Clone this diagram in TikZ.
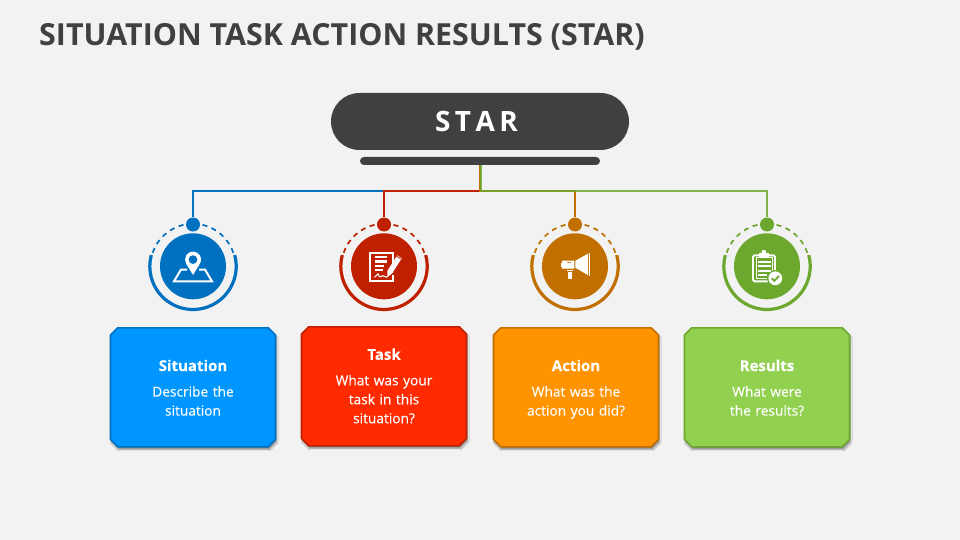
\documentclass[tikz,border=0pt]{standalone}
\usepackage{fontspec}
\setmainfont{Open Sans}
\newfontfamily\bodyfont[FakeBold=0.25]{Open Sans}
\usetikzlibrary{shapes.misc,shadows.blur}
\definecolor{bgc}{HTML}{F2F2F2}
\definecolor{dark}{HTML}{404040}
\definecolor{cA}{HTML}{0070C0}\definecolor{fA}{HTML}{0096FF}
\definecolor{cB}{HTML}{BE2000}\definecolor{fB}{HTML}{FF2A00}
\definecolor{cC}{HTML}{C06F00}\definecolor{fC}{HTML}{FF9300}
\definecolor{cD}{HTML}{6CA82E}\definecolor{fD}{HTML}{92D050}
\tikzset{x=1pt,y=-1pt,
 cardbox/.style={chamfered rectangle,chamfered rectangle xsep=3.6pt,chamfered rectangle ysep=3.6pt,minimum width=165pt,minimum height=119pt,line width=1.6pt,inner sep=0pt,blur shadow={shadow xshift=1pt,shadow yshift=-2.5pt,shadow blur steps=4,shadow blur radius=1.5pt,shadow opacity=45}},
 cardtext/.style={inner sep=0pt,text=white,align=center,font=\bodyfont\fontsize{13.7}{19}\selectfont,text width=150pt},
 disc/.style={circle,minimum size=66pt,inner sep=0pt},
 dot/.style={circle,minimum size=14pt,inner sep=0pt},
 link/.style={line width=1.8pt,line join=miter},
 solidring/.style={line width=3.2pt},
 dashring/.style={line width=1.7pt,dash pattern=on 5pt off 4.6pt},
 icl/.style={draw=white,line width=2pt,fill=none,line join=miter},
 icf/.style={fill=white,draw=none}}
\newcommand{\cardhead}[1]{{\fontsize{15}{19}\selectfont\bfseries\strut #1}\\[6.5pt]}
\newcommand{\cardspace}{\phantom{\rule{150pt}{90pt}}}
\begin{document}
\begin{tikzpicture}
\useasboundingbox[fill=bgc] (0,0) rectangle (960,540);
\node[anchor=base west,inner sep=0pt,text=dark,font=\fontsize{30.4}{34}\selectfont\bfseries] (title) at (39,45.5) {SITUATION TASK ACTION RESULTS (STAR)};
\node[rounded rectangle,fill=dark,minimum width=298pt,minimum height=57pt,inner sep=0pt,text=white,font=\fontsize{28}{32}\selectfont\bfseries] (star) at (480,121.5) {\hspace*{-7pt}S\kern4.5ptT\kern4.5ptA\kern4.5ptR};
\node[rounded rectangle,fill=dark,minimum width=240pt,minimum height=8pt,inner sep=0pt] (bar) at (480,161) {};
% circles and dots
\foreach \n/\x/\c in {a/193/cA,b/384/cB,c/575/cC,d/767/cD}{
  \node[dot,fill=\c] (dot\n) at (\x,224.5) {};
  \node[disc,fill=\c] (disc\n) at (\x,266.3) {};
  \draw[\c,solidring] (disc\n.center) ++(-15:43.2) arc[start angle=-15,end angle=195,radius=43.2];
  \draw[\c,dashring] (disc\n.center) ++(-90:42.5) arc[start angle=-90,end angle=-15,radius=42.5];
  \draw[\c,dashring] (disc\n.center) ++(-90:42.5) arc[start angle=270,end angle=195,radius=42.5];
}
% connectors
\draw[cA,link] (bar.south) -- ++(0,26) -| (dota.north);
\draw[cB,link] (bar.south) -- ++(0,26) -| (dotb.north);
\draw[cC,link] (bar.south) -- ++(0,26) -| (dotc.north);
\draw[cD,link,opacity=.85] ([xshift=.6pt]bar.south) -- ++(0,26) -| (dotd.north);
% cards
\node[cardbox,draw=cA,fill=fA] (carda) at (193,387.3) {\cardspace};
\node[cardbox,draw=cB,fill=fB] (cardb) at (384,386.3) {\cardspace};
\node[cardbox,draw=cC,fill=fC] (cardc) at (576,387.3) {\cardspace};
\node[cardbox,draw=cD,fill=fD] (cardd) at (767,387.3) {\cardspace};
\node[cardtext] (texta) at ([yshift=-2.2pt]carda.center) {\cardhead{Situation}Describe the\\situation\strut};
\node[cardtext] (textb) at ([yshift=-1.4pt]cardb.center) {\cardhead{Task}What was your\\task in this\\situation?\strut};
\node[cardtext] (textc) at ([yshift=-2.2pt]cardc.center) {\cardhead{Action}What was the\\action you did?\strut};
\node[cardtext] (textd) at ([yshift=-2.2pt]cardd.center) {\cardhead{Results}What were\\the results?\strut};
% map pin icon
\begin{scope}[shift={(193,266.3)}]
  \draw[icl] (-6,3.3) -- (-12,3.3) -- (-19,15) -- (19,15) -- (12,3.3) -- (6,3.3);
  \fill[white,even odd rule] (0,8.6) -- (6.77,-2.43) arc[start angle=32.2,end angle=-212.2,radius=8] -- cycle (0,-6.7) circle[radius=4.5];
\end{scope}
% contract icon
\begin{scope}[shift={(384,266.3)}]
  \draw[icl] (9,-3) -- (9,-13.3) -- (-14,-13.3) -- (-14,15) -- (9,15) -- (9,9);
  \draw[white,line width=2.1pt] (-9.5,-9) -- (3,-9) (-9.5,-4.8) -- (3,-4.8) (-9.5,-.6) -- (0,-.6) (-9.5,3.6) -- (-1,3.6);
  \draw[white,line width=1.1pt] (-9.5,11) -- (-6,7.5) -- (-4.5,10.5) -- (-1,9.5) -- (3,11);
  \draw[white,line width=5.4pt] (15.5,-9.5) -- (6.5,4.5);
  \fill[white] (3.6,3) -- (9.4,6) -- (3.2,11) -- cycle;
  \draw[cB,line width=.8pt] (12,-10.5) -- (16.8,-7.5);
\end{scope}
% megaphone icon
\begin{scope}[shift={(575,266.3)}]
  \fill[icf] (.4,-5.6) -- (13,-12.6) -- (13,8.8) -- (.4,1.5) -- cycle;
  \fill[icf] (13.8,-13.2) rectangle (15.4,9.2);
  \fill[icf,even odd rule] (-13,-5.6) rectangle (-.6,2.4) (-8,-4.2) rectangle (-4,-3.2);
  \fill[icf] (-13,-3.6) rectangle (-14,.4);
  \fill[icf] (-8,3.4) rectangle (-2,5);
  \fill[icf] (-7.4,5.8) rectangle (-2.6,13);
\end{scope}
% clipboard icon
\begin{scope}[shift={(767,266.3)}]
  \draw[white,line width=1.9pt,rounded corners=1.5pt] (-14,-11) rectangle (8,15);
  \draw[white,line width=.8pt] (-11,-8.5) rectangle (5.2,12.5);
  \fill[icf] (-8,-13.5) rectangle (1.6,-8.5);
  \fill[icf] (-3.2,-14) circle[radius=2.4];
  \draw[white,line width=1.9pt] (-9,-4) -- (3.5,-4) (-9,0) -- (3.5,0) (-9,4.3) -- (3.5,4.3) (-9,8.6) -- (-.5,8.6);
  \fill[cD] (8.3,12) circle[radius=8.2];
  \fill[white] (8.3,12) circle[radius=6.9];
  \draw[cD,line width=1.8pt] (4.8,12) -- (7.3,14.6) -- (12,9.6);
\end{scope}
\end{tikzpicture}
\end{document}
